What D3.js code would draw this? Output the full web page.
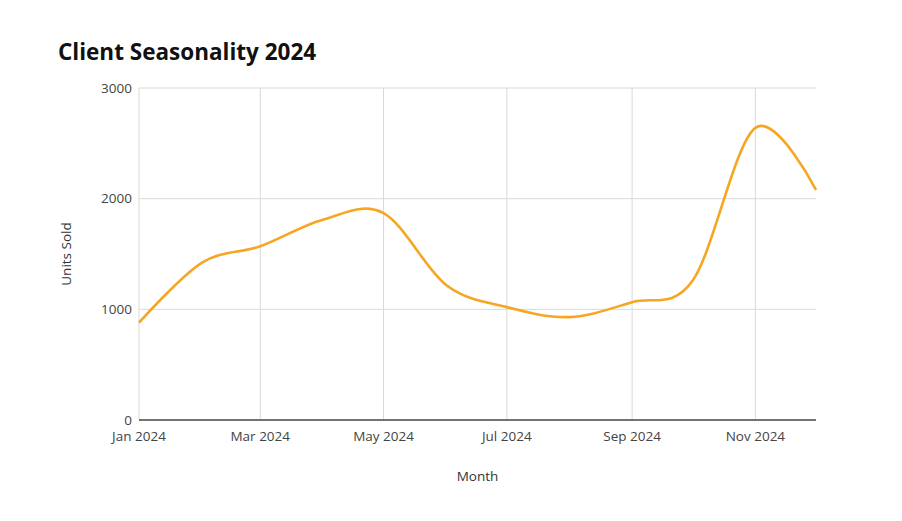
<!DOCTYPE html>
<html>
<head>
<meta charset="utf-8">
<script src="https://cdn.jsdelivr.net/npm/d3@7"></script>
<style>
  html, body { margin: 0; padding: 0; background: #fff; }
  svg { display: block; font-family: "Open Sans", "Noto Sans", sans-serif; }
  .grid line { stroke: #d9d9d9; stroke-width: 1; }
  .tick-label { fill: #444; font-size: 13.5px; }
  .axis-title { fill: #333; font-size: 13.5px; }
</style>
</head>
<body>
<div id="chart"></div>
<script>
const W = 902;
const H = 521;
const MARGIN = { top: 88, right: 86, bottom: 101, left: 139 };

const MONTHS = ["2024-01", "2024-02", "2024-03", "2024-04", "2024-05", "2024-06",
  "2024-07", "2024-08", "2024-09", "2024-10", "2024-11", "2024-12"];
const UNITS_SOLD = [880, 1420, 1570, 1810, 1870, 1220, 1020, 930, 1065, 1260, 2640, 2080];
const Y_TICKS = [0, 1000, 2000, 3000];
const X_TICKS = ["2024-01", "2024-03", "2024-05", "2024-07", "2024-09", "2024-11"];

const parse = d3.timeParse("%Y-%m");
const fmt = d3.timeFormat("%b %Y");
const points = MONTHS.map((m, i) => ({ date: parse(m), value: UNITS_SOLD[i] }));

const svg = d3.select("#chart").append("svg")
  .attr("width", W).attr("height", H);

const x = d3.scaleTime()
  .domain(d3.extent(points, (d) => d.date))
  .range([MARGIN.left, W - MARGIN.right]);
const y = d3.scaleLinear()
  .domain([0, 3000])
  .range([H - MARGIN.bottom, MARGIN.top]);

// title
svg.append("text")
  .attr("x", 58).attr("y", 60)
  .attr("fill", "#111")
  .style("font-size", "22.5px").style("font-weight", "700")
  .text("Client Seasonality 2024");

// gridlines
const grid = svg.append("g").attr("class", "grid");
grid.selectAll("line.h").data(Y_TICKS.filter((t) => t > 0)).join("line")
  .attr("class", "h")
  .attr("x1", MARGIN.left).attr("x2", W - MARGIN.right)
  .attr("y1", (t) => y(t)).attr("y2", (t) => y(t));
grid.selectAll("line.v").data(X_TICKS.map(parse)).join("line")
  .attr("class", "v")
  .attr("x1", (d) => x(d)).attr("x2", (d) => x(d))
  .attr("y1", MARGIN.top).attr("y2", H - MARGIN.bottom);

// y tick labels
svg.append("g").selectAll("text").data(Y_TICKS).join("text")
  .attr("class", "tick-label")
  .attr("x", MARGIN.left - 7)
  .attr("y", (t) => y(t))
  .attr("dy", "0.35em")
  .attr("text-anchor", "end")
  .text((t) => t);

// x tick labels
svg.append("g").selectAll("text").data(X_TICKS.map(parse)).join("text")
  .attr("class", "tick-label")
  .attr("x", (d) => x(d))
  .attr("y", H - MARGIN.bottom + 21)
  .attr("text-anchor", "middle")
  .text((d) => fmt(d));

// baseline
svg.append("line")
  .attr("x1", MARGIN.left).attr("x2", W - MARGIN.right)
  .attr("y1", y(0)).attr("y2", y(0))
  .attr("stroke", "#444").attr("stroke-width", 1.5);

// series
const line = d3.line()
  .x((d) => x(d.date))
  .y((d) => y(d.value))
  .curve(d3.curveCardinal.tension(0));

svg.append("path")
  .datum(points)
  .attr("fill", "none")
  .attr("stroke", "#f6a623")
  .attr("stroke-width", 2.6)
  .attr("stroke-linejoin", "round")
  .attr("d", line);

// axis titles
svg.append("text")
  .attr("class", "axis-title")
  .attr("x", (MARGIN.left + W - MARGIN.right) / 2)
  .attr("y", 481)
  .attr("text-anchor", "middle")
  .text("Month");

svg.append("text")
  .attr("class", "axis-title")
  .attr("transform", `translate(71, ${(MARGIN.top + H - MARGIN.bottom) / 2}) rotate(-90)`)
  .attr("text-anchor", "middle")
  .text("Units Sold");
</script>
</body>
</html>
